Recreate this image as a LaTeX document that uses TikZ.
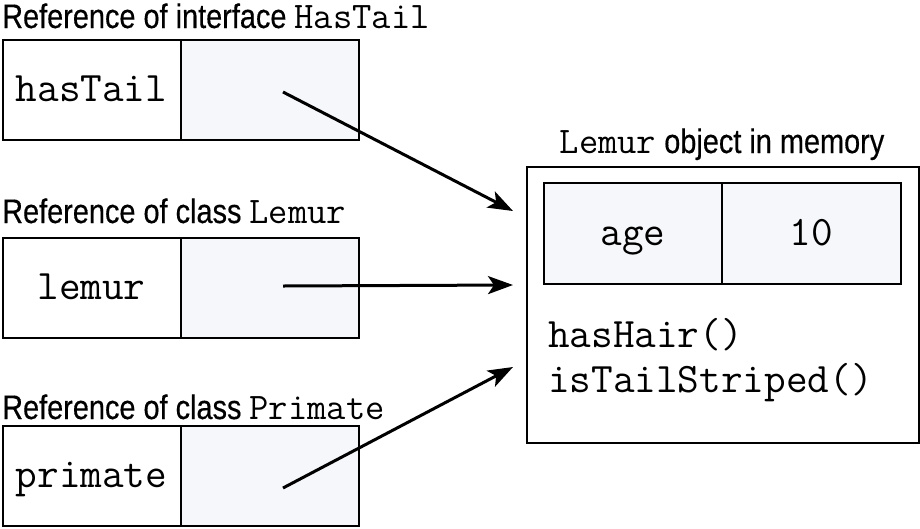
\documentclass[tikz,border=0pt]{standalone}
\usepackage{fontspec}
\setmainfont[FakeStretch=0.85,FakeBold=0.4]{Liberation Sans}
\usepackage{xcolor}
\definecolor{cellgray}{RGB}{246,247,250}
\usetikzlibrary{arrows.meta,positioning,calc}
\tikzset{
  cell/.style={draw,line width=2pt,minimum width=178pt,minimum height=100pt,
        inner sep=0pt,text height=23pt,text depth=0pt,
        font=\fontsize{42}{46}\selectfont\ttfamily},
  namecell/.style={cell,fill=white},
  refcell/.style={cell,fill=cellgray},
  caption/.style={anchor=base west,inner sep=0pt,font=\fontsize{34}{38}\selectfont},
  ptr/.style={-{Stealth[length=25pt,width=18pt,inset=6pt]},line width=3pt}
}
\newcommand{\mono}[1]{{\fontsize{37.5}{40}\selectfont\ttfamily #1}}
\begin{document}
\begin{tikzpicture}[x=1pt,y=-1pt]
  \useasboundingbox[fill=white] (0,0) rectangle (920,528);
  % reference variables
  \node[caption] (capTail) at (2,28) {Reference of interface \mono{HasTail}};
  \node[namecell] (hasTailName) at (91.5,90) {hasTail};
  \node[refcell] (hasTailRef) at (270,90) {};
  \node[caption] (capLemur) at (2,223) {Reference of class \mono{Lemur}};
  \node[namecell] (lemurName) at (91.5,288) {lemur};
  \node[refcell] (lemurRef) at (270,288) {};
  \node[caption] (capPrimate) at (2,419) {Reference of class \mono{Primate}};
  \node[namecell] (primateName) at (91.5,476) {primate};
  \node[refcell] (primateRef) at (270,476) {};
  % object in memory
  \node[draw,line width=2pt,minimum width=392pt,minimum height=276pt,inner sep=0pt]
        (obj) at (723,305) {};
  \node[anchor=base,inner sep=0pt,font=\fontsize{34}{38}\selectfont]
        (capObj) at (722,153) {\mono{Lemur} object in memory};
  \node[refcell,minimum width=178pt,minimum height=101pt] (ageName) at (633,233.5) {age};
  \node[refcell,minimum width=179pt,minimum height=101pt] (ageVal) at (811.5,233.5) {10};
  \node[anchor=base west,inner sep=0pt,align=left,
        font=\fontsize{42}{45}\selectfont\ttfamily]
        (methods) at (548,392) {hasHair()\\isTailStriped()};
  % pointers
  \coordinate (tailEnd) at ($(obj.north west)+(-13,45)$);
  \coordinate (lemurEnd) at ($(obj.north west)+(-13,119)$);
  \coordinate (primateEnd) at ($(obj.north west)+(-13,201)$);
  \draw[ptr] ($(hasTailRef.center)+(13,2)$) -- (tailEnd);
  \draw[ptr] ($(lemurRef.center)+(13,-2)$) -- (lemurEnd);
  \draw[ptr] ($(primateRef.center)+(13,12)$) -- (primateEnd);
\end{tikzpicture}
\end{document}
